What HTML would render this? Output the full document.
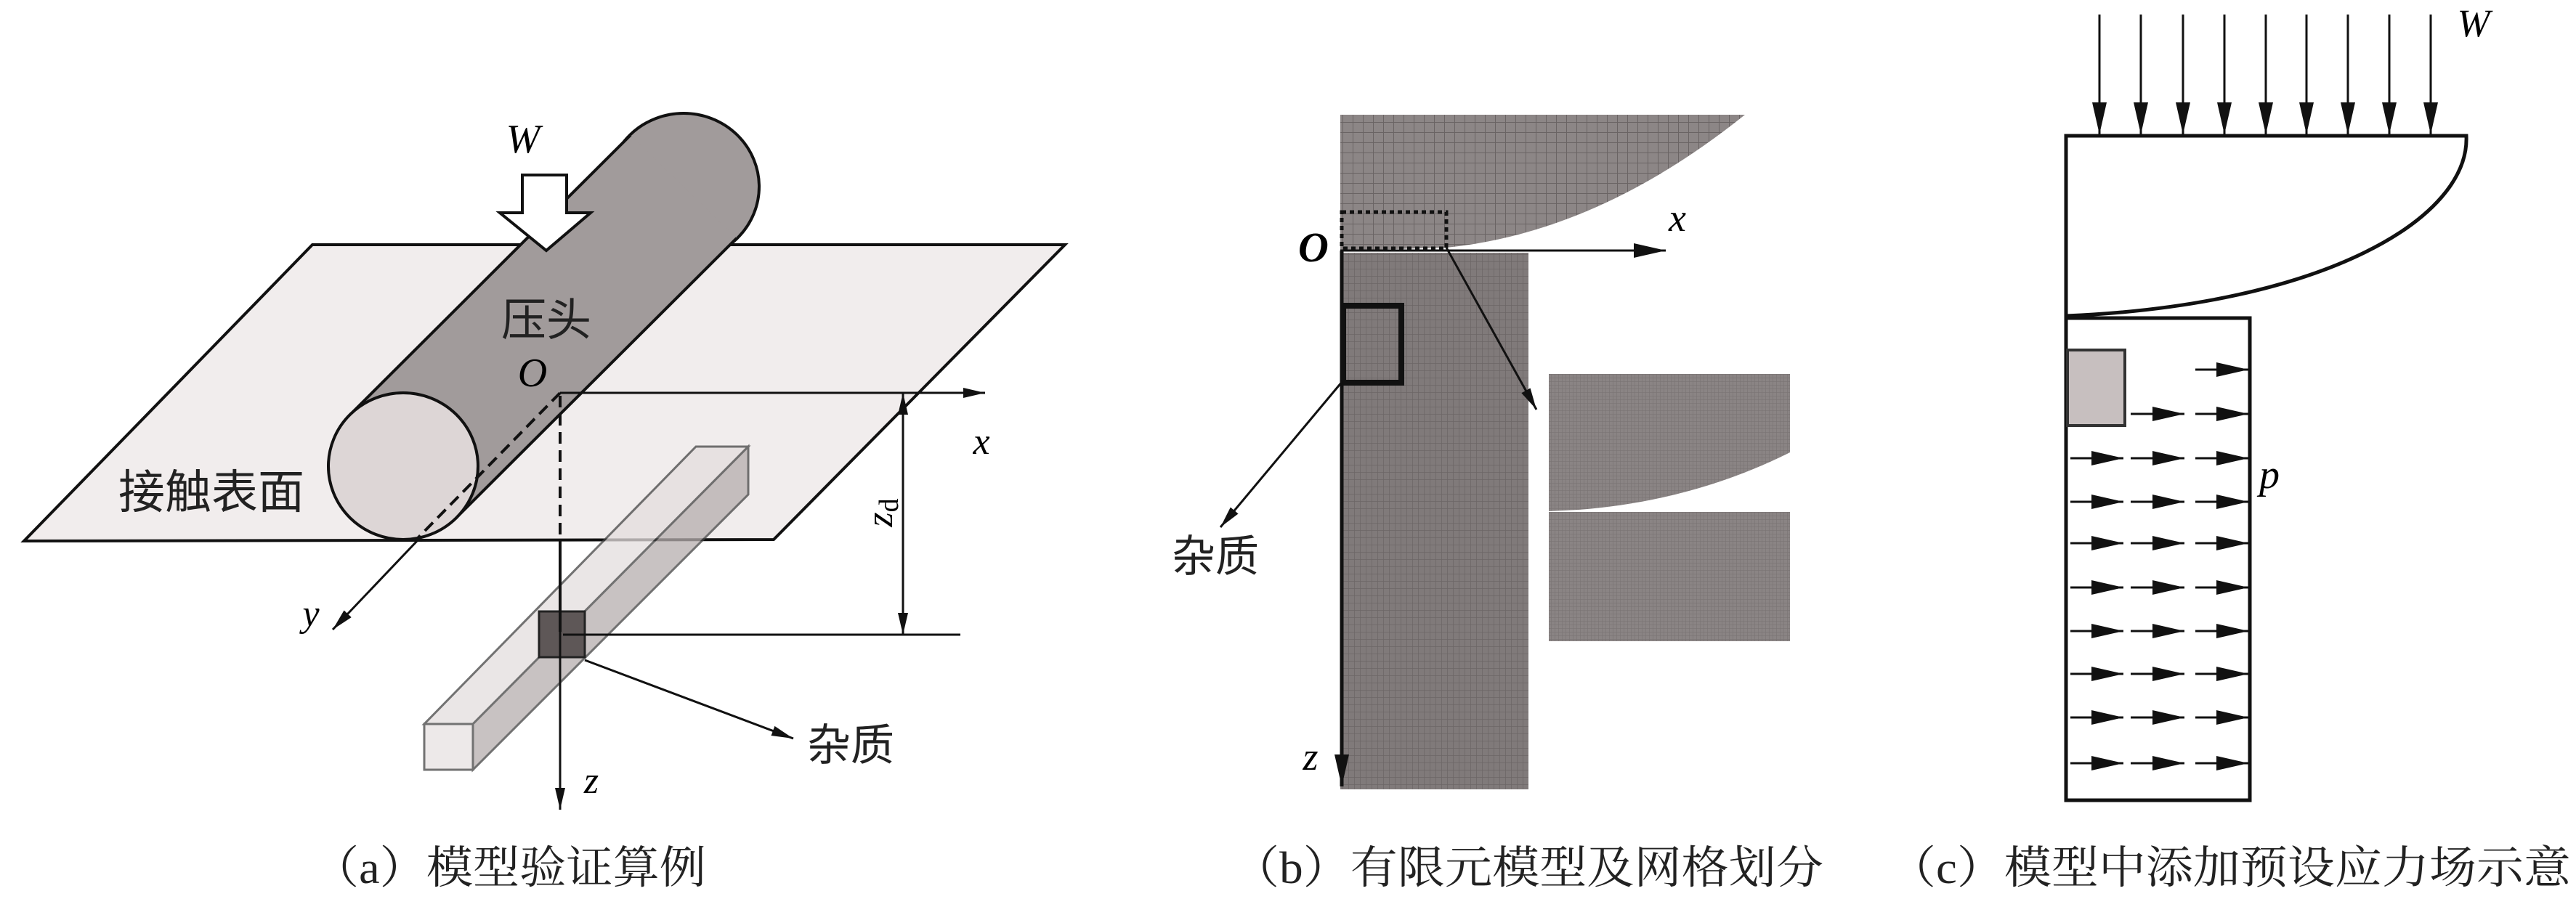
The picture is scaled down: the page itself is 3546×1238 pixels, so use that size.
<!DOCTYPE html>
<html><head><meta charset="utf-8"><style>
html,body{margin:0;padding:0;background:#fff;}
svg{display:block;}
.it{font-family:"Liberation Serif",serif;font-style:italic;}
.cn{font-family:"Liberation Sans","Noto Sans CJK SC",sans-serif;}
.cap{font-family:"Liberation Serif","Noto Serif CJK SC",serif;}
</style></head><body>
<svg width="3546" height="1238" viewBox="0 0 3546 1238" xmlns="http://www.w3.org/2000/svg">
<defs>
<marker id="ar" viewBox="0 0 30 14" refX="30" refY="7" markerWidth="30" markerHeight="14" markerUnits="userSpaceOnUse" orient="auto"><path d="M0,0 L30,7 L0,14 Z" fill="#111"/></marker>
<marker id="arL" viewBox="0 0 44 20" refX="44" refY="10" markerWidth="44" markerHeight="20" markerUnits="userSpaceOnUse" orient="auto"><path d="M0,0 L44,10 L0,20 Z" fill="#111"/></marker>
<marker id="arD" viewBox="0 0 30 14" refX="30" refY="7" markerWidth="30" markerHeight="14" markerUnits="userSpaceOnUse" orient="auto-start-reverse"><path d="M0,0 L30,7 L0,14 Z" fill="#111"/></marker>
<pattern id="grid" width="14" height="14" patternUnits="userSpaceOnUse"><rect width="14" height="14" fill="#8c8686"/><path d="M0,0 H14 M0,0 V14" stroke="#6a6464" stroke-width="2"/></pattern>
<pattern id="stripe" width="8" height="10" patternUnits="userSpaceOnUse"><rect width="8" height="10" fill="#807a7a"/><path d="M0,0 V10 M0,0 H8" stroke="#6c6666" stroke-width="1.5"/></pattern>
<pattern id="fine" width="5" height="5" patternUnits="userSpaceOnUse"><rect width="5" height="5" fill="#8a8484"/><path d="M0,0 V5 M0,0 H5" stroke="#777171" stroke-width="1"/></pattern>
</defs>

<!-- Panel a -->
<polygon points="430,337 1466,337 1065,743 33,745" fill="#f1eded" stroke="#111" stroke-width="4"/>
<g opacity="0.75" stroke="#444" stroke-width="3">
<polygon points="584,997 651,997 1030,615 958,615" fill="#e4dede"/>
<polygon points="651,997 1030,615 1030,681 651,1060" fill="#b6aeae"/>
<rect x="584" y="997" width="67" height="63" fill="#e8e2e2"/>
</g>
<ellipse cx="941" cy="257" rx="104" ry="101" fill="#a19b9b" stroke="#111" stroke-width="4"/>
<polygon points="482,571 868,186 1014,328 628,713" fill="#a19b9b"/>
<line x1="482" y1="571" x2="868" y2="186" stroke="#111" stroke-width="4"/>
<line x1="628" y1="713" x2="1014" y2="328" stroke="#111" stroke-width="4"/>
<ellipse cx="555" cy="642" rx="103" ry="101" fill="#ddd6d6" stroke="#111" stroke-width="4"/>
<polygon points="719,241 780,241 780,293 813,293 752,345 688,293 719,293" fill="#fff" stroke="#111" stroke-width="4"/>
<text x="720" y="210" class="it" font-size="56" text-anchor="middle">W</text>
<text x="752" y="462" class="cn" font-size="62" text-anchor="middle" fill="#222">压头</text>
<text x="733" y="532" class="it" font-size="56" text-anchor="middle">O</text>
<line x1="771" y1="541" x2="575" y2="741" stroke="#111" stroke-width="4" stroke-dasharray="16 9"/>
<line x1="771" y1="541" x2="1356" y2="541" stroke="#111" stroke-width="3" marker-end="url(#ar)"/>
<text x="1351" y="625" class="it" font-size="52" text-anchor="middle">x</text>
<line x1="771" y1="545" x2="771" y2="748" stroke="#111" stroke-width="4" stroke-dasharray="16 9"/>
<rect x="742" y="842" width="63" height="63" fill="#5e5757" stroke="#222" stroke-width="3"/>
<line x1="771" y1="748" x2="771" y2="1115" stroke="#111" stroke-width="3" marker-end="url(#ar)"/>
<line x1="771" y1="748" x2="771" y2="870" stroke="#111" stroke-width="4"/>
<text x="814" y="1092" class="it" font-size="52" text-anchor="middle">z</text>
<line x1="575" y1="744" x2="458" y2="867" stroke="#111" stroke-width="3" marker-end="url(#ar)"/>
<text x="428" y="862" class="it" font-size="52" text-anchor="middle">y</text>
<line x1="1243" y1="541" x2="1243" y2="874" stroke="#111" stroke-width="3" marker-start="url(#arD)" marker-end="url(#arD)"/>
<line x1="775" y1="874" x2="1322" y2="874" stroke="#111" stroke-width="3"/>
<text transform="translate(1228,706) rotate(-90)" class="it" font-size="52" text-anchor="middle">z<tspan font-style="normal" font-size="38" dy="8">d</tspan></text>
<line x1="805" y1="909" x2="1092" y2="1017" stroke="#111" stroke-width="3" marker-end="url(#ar)"/>
<text x="1111" y="1047" class="cn" font-size="60" fill="#222">杂质</text>
<text x="163" y="700" class="cn" font-size="64" fill="#222">接触表面</text>

<!-- Panel b -->
<path d="M1845,158 L2402,158 Q2200,320 1991,341 L1845,345 Z" fill="url(#grid)"/>
<rect x="1845" y="348" width="259" height="739" fill="url(#stripe)"/>
<rect x="1847" y="292" width="144" height="50" fill="none" stroke="#111" stroke-width="5" stroke-dasharray="6 5"/>
<rect x="1849" y="421" width="80" height="106" fill="none" stroke="#111" stroke-width="8"/>
<line x1="1845" y1="345" x2="2293" y2="345" stroke="#111" stroke-width="3" marker-end="url(#arL)"/>
<line x1="1847" y1="345" x2="1847" y2="1083" stroke="#111" stroke-width="5" marker-end="url(#arL)"/>
<text x="1808" y="360" class="it" font-size="58" text-anchor="middle" font-weight="bold">O</text>
<text x="2309" y="318" class="it" font-size="54" text-anchor="middle">x</text>
<text x="1804" y="1060" class="it" font-size="54" text-anchor="middle">z</text>
<line x1="1848" y1="525" x2="1680" y2="726" stroke="#111" stroke-width="3" marker-end="url(#ar)"/>
<line x1="1991" y1="341" x2="2115" y2="564" stroke="#111" stroke-width="3" marker-end="url(#ar)"/>
<text x="1613" y="787" class="cn" font-size="60" fill="#222">杂质</text>
<path d="M2132,515 L2464,515 L2464,623 Q2330,690 2173,702 L2132,704 Z" fill="url(#fine)"/>
<rect x="2132" y="705" width="332" height="178" fill="url(#fine)"/>

<!-- Panel c -->
<g stroke="#111" stroke-width="3">
<line x1="2890" y1="20" x2="2890" y2="185" marker-end="url(#arL)"/>
<line x1="2947" y1="20" x2="2947" y2="185" marker-end="url(#arL)"/>
<line x1="3005" y1="20" x2="3005" y2="185" marker-end="url(#arL)"/>
<line x1="3062" y1="20" x2="3062" y2="185" marker-end="url(#arL)"/>
<line x1="3119" y1="20" x2="3119" y2="185" marker-end="url(#arL)"/>
<line x1="3175" y1="20" x2="3175" y2="185" marker-end="url(#arL)"/>
<line x1="3232" y1="20" x2="3232" y2="185" marker-end="url(#arL)"/>
<line x1="3289" y1="20" x2="3289" y2="185" marker-end="url(#arL)"/>
<line x1="3346" y1="20" x2="3346" y2="185" marker-end="url(#arL)"/>
</g>
<text x="3405" y="50" class="it" font-size="54" text-anchor="middle">W</text>
<path d="M2844,435 L2844,187 L3395,187 C3400,300 3200,420 2844,435 Z" fill="#fff" stroke="#111" stroke-width="5"/>
<rect x="2844" y="438" width="253" height="664" fill="#fff" stroke="#111" stroke-width="5"/>
<rect x="2846" y="482" width="79" height="104" fill="#c7bfbf" stroke="#333" stroke-width="4"/>
<g stroke="#111" stroke-width="3">
<line x1="3022" y1="509" x2="3095" y2="509" marker-end="url(#arL)"/>
<line x1="2933" y1="570" x2="3007" y2="570" marker-end="url(#arL)"/>
<line x1="3022" y1="570" x2="3095" y2="570" marker-end="url(#arL)"/>
</g>
<g stroke="#111" stroke-width="3">
<line x1="2850" y1="631" x2="2923" y2="631" marker-end="url(#arL)"/><line x1="2933" y1="631" x2="3007" y2="631" marker-end="url(#arL)"/><line x1="3022" y1="631" x2="3095" y2="631" marker-end="url(#arL)"/>
<line x1="2850" y1="691" x2="2923" y2="691" marker-end="url(#arL)"/><line x1="2933" y1="691" x2="3007" y2="691" marker-end="url(#arL)"/><line x1="3022" y1="691" x2="3095" y2="691" marker-end="url(#arL)"/>
<line x1="2850" y1="748" x2="2923" y2="748" marker-end="url(#arL)"/><line x1="2933" y1="748" x2="3007" y2="748" marker-end="url(#arL)"/><line x1="3022" y1="748" x2="3095" y2="748" marker-end="url(#arL)"/>
<line x1="2850" y1="809" x2="2923" y2="809" marker-end="url(#arL)"/><line x1="2933" y1="809" x2="3007" y2="809" marker-end="url(#arL)"/><line x1="3022" y1="809" x2="3095" y2="809" marker-end="url(#arL)"/>
<line x1="2850" y1="869" x2="2923" y2="869" marker-end="url(#arL)"/><line x1="2933" y1="869" x2="3007" y2="869" marker-end="url(#arL)"/><line x1="3022" y1="869" x2="3095" y2="869" marker-end="url(#arL)"/>
<line x1="2850" y1="928" x2="2923" y2="928" marker-end="url(#arL)"/><line x1="2933" y1="928" x2="3007" y2="928" marker-end="url(#arL)"/><line x1="3022" y1="928" x2="3095" y2="928" marker-end="url(#arL)"/>
<line x1="2850" y1="988" x2="2923" y2="988" marker-end="url(#arL)"/><line x1="2933" y1="988" x2="3007" y2="988" marker-end="url(#arL)"/><line x1="3022" y1="988" x2="3095" y2="988" marker-end="url(#arL)"/>
<line x1="2850" y1="1051" x2="2923" y2="1051" marker-end="url(#arL)"/><line x1="2933" y1="1051" x2="3007" y2="1051" marker-end="url(#arL)"/><line x1="3022" y1="1051" x2="3095" y2="1051" marker-end="url(#arL)"/>
</g>
<text x="3124" y="672" class="it" font-size="56" text-anchor="middle">p</text>

<!-- Captions -->
<text x="430" y="1216" class="cap" font-size="62" textLength="542" lengthAdjust="spacingAndGlyphs" fill="#222">（a）模型验证算例</text>
<text x="1696" y="1216" class="cap" font-size="62" textLength="814" lengthAdjust="spacingAndGlyphs" fill="#222">（b）有限元模型及网格划分</text>
<text x="2600" y="1216" class="cap" font-size="62" textLength="939" lengthAdjust="spacingAndGlyphs" fill="#222">（c）模型中添加预设应力场示意</text>
</svg>
</body></html>
